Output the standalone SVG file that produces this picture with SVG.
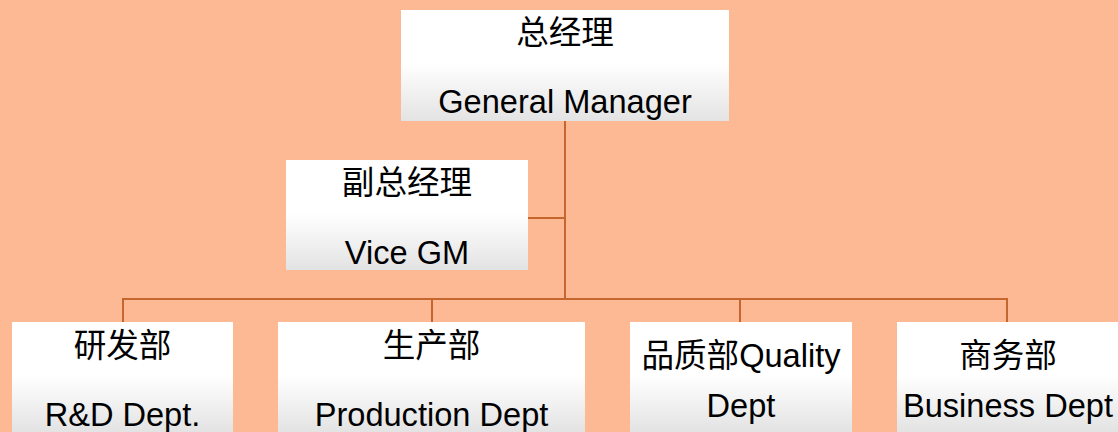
<svg xmlns="http://www.w3.org/2000/svg" width="1118" height="432" viewBox="0 0 1118 432">
<style>
.box{fill:url(#g)}
.t{font-family:"Liberation Sans","Noto Sans CJK SC",sans-serif;font-size:32.6px;fill:#000;text-anchor:middle}
.c{fill:none;stroke:#C4662E;stroke-width:2}
</style>
<defs>
<linearGradient id="g" x1="0" y1="0" x2="0" y2="1">
<stop offset="0" stop-color="#ffffff"/>
<stop offset="0.48" stop-color="#ffffff"/>
<stop offset="1" stop-color="#e3e3e3"/>
</linearGradient>
</defs>
<rect width="1118" height="432" fill="#FDB894"/>
<g id="connectors">
<path class="c" d="M565 121V299M528 218H565M123 322V299H1007V322M432 299V322M740 299V322"/>
</g>
<g id="gm">
<rect class="box" x="401" y="10" width="328" height="111"/>
<text class="t" x="565" y="44">总经理</text>
<text class="t" x="565" y="113">General Manager</text>
</g>
<g id="vgm">
<rect class="box" x="286" y="160" width="242" height="110"/>
<text class="t" x="407" y="194">副总经理</text>
<text class="t" x="407" y="264">Vice GM</text>
</g>
<g id="rd">
<rect class="box" x="12" y="322" width="221" height="110"/>
<text class="t" x="122.5" y="357">研发部</text>
<text class="t" x="122.5" y="426">R&amp;D Dept.</text>
</g>
<g id="prod">
<rect class="box" x="278" y="322" width="307" height="110"/>
<text class="t" x="431.5" y="357">生产部</text>
<text class="t" x="431.5" y="426">Production Dept</text>
</g>
<g id="quality">
<rect class="box" x="630" y="322" width="222" height="110"/>
<text class="t" x="741" y="367">品质部Quality</text>
<text class="t" x="741" y="417">Dept</text>
</g>
<g id="business">
<rect class="box" x="897" y="322" width="221" height="110"/>
<text class="t" x="1008" y="367">商务部</text>
<text class="t" x="1008" y="417">Business Dept</text>
</g>
</svg>
